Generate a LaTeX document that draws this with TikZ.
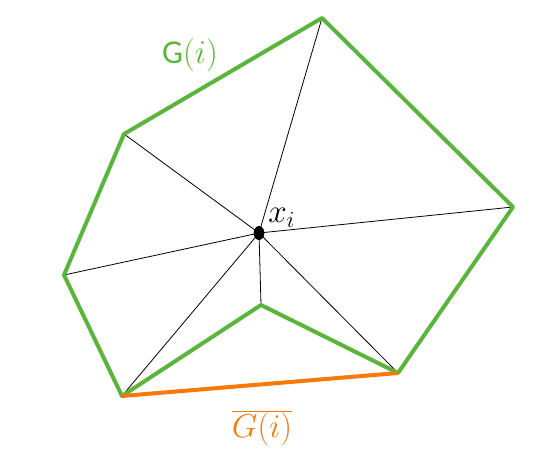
\documentclass[tikz,border=0pt]{standalone}
\usepackage{fontspec}
\setmainfont{Carlito}
\usetikzlibrary{shapes.geometric}
\definecolor{hullGreen}{HTML}{5BB53C}
\definecolor{gapOrange}{HTML}{F57A0A}

\begin{document}
\begin{tikzpicture}[
  x=0.75pt, y=-0.75pt,
  hull/.style ={draw=hullGreen, line width=3pt, line join=round},
  gap/.style  ={draw=gapOrange, line width=3pt},
  spoke/.style={draw=black, line width=0.6pt},
  center/.style={ellipse, fill=black, inner sep=0pt, minimum width=8pt, minimum height=10.5pt},
  lbl/.style  ={inner sep=0pt, font=\fontsize{25}{30}\selectfont},
]
\useasboundingbox (0,0) rectangle (556,459);

% ==================== vertices ====================
\coordinate (pT)  at (322,18);
\coordinate (pR)  at (513,207);
\coordinate (pLR) at (398,373);
\coordinate (pIn) at (261,305);
\coordinate (pLL) at (122,396);
\coordinate (pL)  at (64,275);
\coordinate (pUL) at (124,134);

% ==================== spokes ====================
\node[center] (xi) at (259,233) {};
\foreach \v in {pT,pR,pLR,pIn,pLL,pL,pUL}
  \draw[spoke] (xi.center) -- (\v);

% ==================== boundary ====================
\draw[hull] (pLL) -- (pL) -- (pUL) -- (pT) -- (pR) -- (pLR) -- (pIn) -- cycle;
\draw[gap] (pLL) -- (pLR);

% ==================== labels ====================
\node[lbl, text=hullGreen] (lblG) at (190,55) {G$(i)$};
\node[lbl, anchor=south west] (lblX) at (268,228) {$x_{i}$};
\node[lbl, text=gapOrange] (lblBar) at (262,428) {$\overline{G(i)}$};

\end{tikzpicture}
\end{document}
